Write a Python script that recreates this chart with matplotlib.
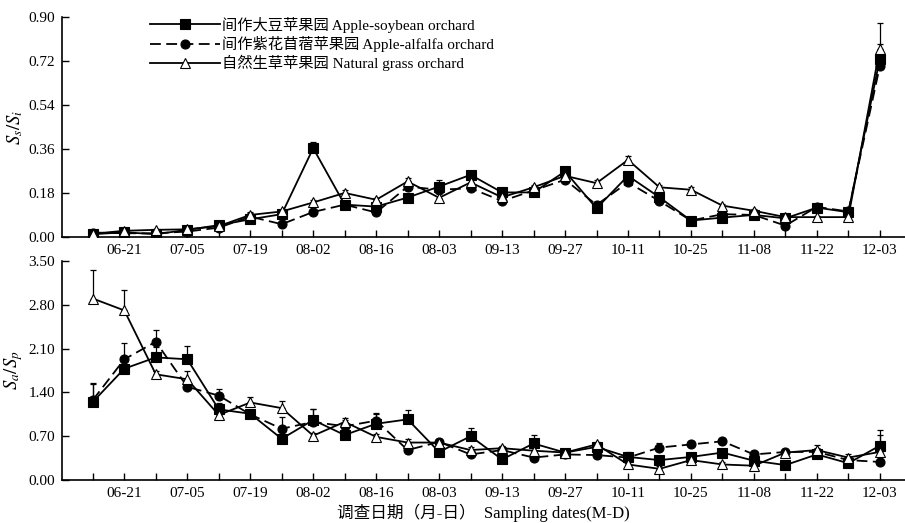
import numpy as np
import matplotlib
matplotlib.use('Agg')
import matplotlib.pyplot as plt

plt.rcParams['font.family'] = ['Liberation Serif', 'Noto Sans CJK SC']
plt.rcParams['mathtext.fontset'] = 'stix'

tick_labels = ['06-21', '07-05', '07-19', '08-02', '08-16', '08-03', '09-13',
               '09-27', '10-11', '10-25', '11-08', '11-22', '12-03']
names = ['间作大豆苹果园 Apple-soybean orchard',
         '间作紫花苜蓿苹果园 Apple-alfalfa orchard',
         '自然生草苹果园 Natural grass orchard']

# Ss/Si
ss_soy = [0.011, 0.019, 0.011, 0.029, 0.048, 0.072, 0.093, 0.363, 0.132, 0.124, 0.161, 0.206, 0.254,
          0.182, 0.182, 0.268, 0.117, 0.250, 0.162, 0.067, 0.079, 0.090, 0.076, 0.120, 0.101, 0.728]
ss_alf = [0.018, 0.015, 0.015, 0.022, 0.038, 0.083, 0.052, 0.102, 0.132, 0.100, 0.206, 0.193, 0.199,
          0.147, 0.190, 0.234, 0.131, 0.223, 0.147, 0.067, 0.093, 0.090, 0.046, 0.123, 0.104, 0.698]
ss_nat = [0.013, 0.025, 0.029, 0.031, 0.044, 0.090, 0.104, 0.141, 0.180, 0.152, 0.227, 0.160, 0.223,
          0.162, 0.203, 0.250, 0.220, 0.315, 0.203, 0.193, 0.128, 0.107, 0.081, 0.081, 0.081, 0.770]
ss_soy_err = [0.004, 0.004, 0.004, 0.005, 0.006, 0.008, 0.008, 0.026, 0.008, 0.008, 0.010, 0.025, 0.012,
              0.008, 0.008, 0.010, 0.010, 0.012, 0.010, 0.005, 0.006, 0.006, 0.006, 0.008, 0.006, 0.060]
ss_alf_err = [0.004, 0.004, 0.004, 0.005, 0.006, 0.008, 0.006, 0.008, 0.008, 0.008, 0.012, 0.015, 0.010,
              0.008, 0.008, 0.010, 0.010, 0.012, 0.010, 0.005, 0.006, 0.006, 0.006, 0.008, 0.006, 0.040]
ss_nat_err = [0.004, 0.005, 0.005, 0.005, 0.006, 0.010, 0.008, 0.008, 0.010, 0.008, 0.016, 0.025, 0.012,
              0.008, 0.010, 0.010, 0.012, 0.016, 0.010, 0.012, 0.008, 0.008, 0.006, 0.006, 0.006, 0.105]

# Sa/Sp
sa_soy = [1.25, 1.78, 1.96, 1.93, 1.13, 1.06, 0.66, 0.96, 0.72, 0.90, 0.97, 0.45, 0.70,
          0.33, 0.585, 0.44, 0.53, 0.37, 0.32, 0.37, 0.44, 0.31, 0.24, 0.41, 0.27, 0.55]
sa_alf = [1.28, 1.93, 2.21, 1.49, 1.35, 1.05, 0.82, 0.93, 0.86, 0.95, 0.48, 0.61, 0.41,
          0.48, 0.36, 0.41, 0.40, 0.36, 0.52, 0.57, 0.62, 0.41, 0.45, 0.45, 0.32, 0.29]
sa_nat = [2.90, 2.71, 1.69, 1.61, 1.04, 1.24, 1.15, 0.71, 0.93, 0.69, 0.60, 0.60, 0.48,
          0.51, 0.47, 0.44, 0.57, 0.25, 0.18, 0.32, 0.25, 0.23, 0.44, 0.48, 0.36, 0.45]
sa_soy_err = [0.28, 0.05, 0.16, 0.22, 0.10, 0.05, 0.05, 0.17, 0.05, 0.15, 0.15, 0.05, 0.14,
              0.05, 0.13, 0.04, 0.05, 0.08, 0.04, 0.04, 0.04, 0.04, 0.04, 0.05, 0.04, 0.25]
sa_alf_err = [0.27, 0.26, 0.18, 0.05, 0.11, 0.04, 0.19, 0.20, 0.10, 0.12, 0.04, 0.05, 0.05,
              0.04, 0.04, 0.04, 0.04, 0.04, 0.08, 0.06, 0.06, 0.04, 0.04, 0.04, 0.04, 0.04]
sa_nat_err = [0.45, 0.33, 0.05, 0.13, 0.04, 0.09, 0.12, 0.04, 0.06, 0.04, 0.06, 0.05, 0.05,
              0.04, 0.04, 0.04, 0.04, 0.04, 0.04, 0.04, 0.04, 0.04, 0.04, 0.08, 0.06, 0.27]

x = np.arange(len(ss_soy))

fig = plt.figure(figsize=(9.05, 5.23), dpi=100)
ax1 = fig.add_axes([0.0685, 0.547, 0.9315, 0.4207])
ax2 = fig.add_axes([0.0685, 0.082, 0.9315, 0.419])


def draw(ax, ys, errs):
    styles = [('s', '-', 'black'), ('o', '--', 'black'), ('^', '-', 'white')]
    for y, e, (mk, ls, mfc), name in zip(ys, errs, styles, names):
        # error bars only upward, as in the paper
        ax.errorbar(x, y, yerr=[np.zeros(len(e)), e], fmt='none', ecolor='black',
                    elinewidth=0.9, capsize=2.5, capthick=0.9, zorder=2)
        line, = ax.plot(x, y, color='black', lw=1.3, marker=mk, markersize=6.5,
                        mfc=mfc, mec='black', mew=0.8, ls=ls, label=name, zorder=3)
        if ls == '--':
            line.set_dashes((6, 3))


def style(ax, ymax, step, ylabel):
    ax.set_xlim(-0.98, 25.8)
    ax.set_ylim(0, ymax)
    ticks = np.arange(0, ymax + step / 2, step)
    ax.set_yticks(ticks)
    ax.set_yticklabels(['%.2f' % v for v in ticks])
    ax.set_xticks(x)
    ax.set_xticklabels(['' if i % 2 == 0 else tick_labels[i // 2] for i in x])
    ax.tick_params(direction='in', length=5, width=1, labelsize=11, pad=5)
    ax.spines['top'].set_visible(False)
    ax.spines['right'].set_visible(False)
    ax.spines['left'].set_linewidth(1.2)
    ax.spines['bottom'].set_linewidth(1.2)
    ax.set_ylabel(ylabel, fontsize=13.5)
    ax.yaxis.set_label_coords(-0.044, 0.5)


draw(ax1, [ss_soy, ss_alf, ss_nat], [ss_soy_err, ss_alf_err, ss_nat_err])
style(ax1, 0.90, 0.18, r'$S_s/S_i$')
draw(ax2, [sa_soy, sa_alf, sa_nat], [sa_soy_err, sa_alf_err, sa_nat_err])
style(ax2, 3.50, 0.70, r'$S_a/S_p$')

ax1.legend(loc='upper left', bbox_to_anchor=(0.095, 1.035), frameon=False,
           fontsize=11, handlelength=4.6, handletextpad=0.1, labelspacing=0.2,
           borderpad=0)
ax2.set_xlabel('调查日期（月-日）  Sampling dates(M-D)', fontsize=12, labelpad=3)

fig.savefig('out.png', dpi=100)
